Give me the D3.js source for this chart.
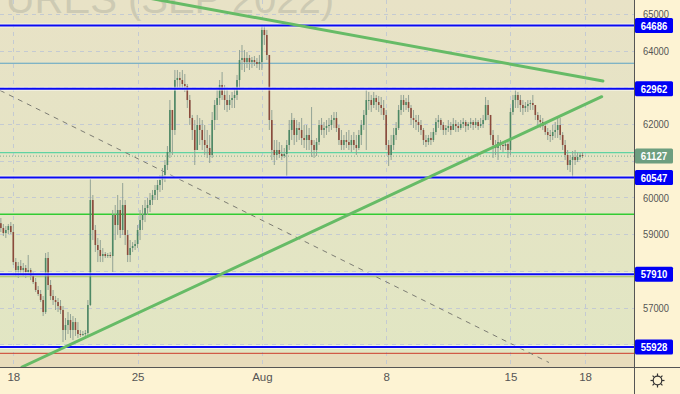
<!DOCTYPE html>
<html>
<head>
<meta charset="utf-8">
<script src="https://cdn.jsdelivr.net/npm/d3@7"></script>
<style>
  body { margin: 0; background: #fdf3d3; }
  svg { display: block; font-family: 'Liberation Sans Narrow', 'Liberation Sans', sans-serif; }
</style>
</head>
<body>
<svg id="chart" width="680" height="394"></svg>
<script>
// hourly-ish bars, 10 per session, Jul 15 (part) .. Aug 17
const barHigh = [
  59441, 59277, 59222, 59277, 59331,
  59277, 58351, 58241, 58296, 58214, 58160, 58433, 58078, 57969, 57806,
  57587, 57479, 57315, 58487, 58514, 57751, 57479, 57315, 57261, 57206,
  57042, 56716, 56879, 56825, 56770, 56716, 56606, 56389, 56362, 56389,
  57206, 60504, 60068, 59250, 58896, 58841, 58623, 58514, 58487, 58514,
  59659, 59795, 60068, 59931, 60394, 59931, 59114, 58841, 58786, 58841,
  59250, 59659, 59795, 59931, 59986, 60122, 60204, 60340, 60476, 60613,
  60803, 61021, 61402, 62656, 62384, 63474, 63474, 63419, 63474, 63365,
  63092, 62793, 62248, 62111, 62248, 62166, 62111, 61975, 61839, 61703,
  62329, 62656, 62929, 63201, 63419, 63065, 62929, 62793, 62874, 62983,
  63338, 64019, 64155, 64019, 63964, 63883, 63828, 63855, 63801, 63883,
  64700, 64672, 64564, 63883, 62384, 61566, 61566, 61511, 61430, 61348,
  61566, 62111, 62302, 62166, 62111, 62056, 62166, 61975, 61975, 61893,
  62465, 61566, 61621, 62111, 62166, 62056, 62111, 62166, 62248, 62329,
  62329, 61975, 61839, 61703, 61784, 61839, 61703, 61784, 61703, 61839,
  62111, 62384, 62929, 62874, 62793, 62874, 62793, 62765, 62738, 62656,
  62384, 61566, 61703, 61893, 62056, 62520, 62793, 62793, 62711, 62793,
  62520, 62384, 62248, 62248, 62111, 61893, 61703, 61703, 61784, 61893,
  62166, 62248, 62166, 62056, 61975, 62111, 62056, 62166, 62111, 62056,
  62111, 62166, 62111, 62056, 62166, 62111, 62166, 62111, 62166, 62248,
  62738, 62656, 62248, 61839, 61566, 61703, 61566, 61511, 61566, 61566,
  62438, 62793, 62929, 62874, 62793, 62656, 62601, 62656, 62656, 62793,
  62520, 62329, 62248, 62166, 62056, 61893, 61839, 61975, 62056, 62166,
  62166, 61784, 61566, 61294, 61158, 61267, 61294, 61239, 61212, 61239
];
const barLow = [
  59059, 58950, 58896, 59005, 59005,
  58160, 57860, 57806, 57915, 57860, 57806, 57888, 57751, 57642, 57424,
  57315, 57151, 56770, 56825, 57479, 57206, 57070, 56934, 56879, 56825,
  56061, 56116, 56280, 56171, 56116, 56225, 56171, 56198, 56225, 56171,
  56225, 57042, 58841, 58514, 58241, 58241, 58241, 58351, 58351, 58351,
  57969, 58841, 58978, 58896, 58978, 58705, 58241, 58241, 58514, 58569,
  58623, 58841, 59114, 59331, 59523, 59604, 59795, 59931, 59931, 60149,
  60204, 60421, 60749, 61076, 61158, 61703, 62929, 62983, 62929, 62874,
  62438, 61975, 61566, 60885, 61294, 61430, 61294, 61158, 61076, 60939,
  61076, 61839, 62111, 62520, 62656, 62384, 62329, 62384, 62438, 62438,
  62656, 62929, 63474, 63419, 63528, 63474, 63528, 63582, 63528, 63474,
  63474, 64155, 63746, 61839, 61021, 60885, 61021, 61076, 61021, 61076,
  60585, 61294, 61566, 61430, 61511, 61566, 61430, 61348, 61294, 61294,
  61103, 61076, 61130, 61430, 61703, 61621, 61703, 61784, 61839, 61893,
  61784, 61430, 61294, 61294, 61348, 61294, 61239, 61294, 61158, 61294,
  61430, 61839, 61294, 62384, 62329, 62438, 62384, 62329, 62248, 62111,
  61294, 60857, 61021, 61294, 61566, 61839, 62248, 62329, 62384, 62329,
  61975, 61893, 61839, 61784, 61703, 61430, 61375, 61430, 61430, 61511,
  61703, 61893, 61839, 61703, 61703, 61784, 61703, 61839, 61784, 61784,
  61839, 61893, 61784, 61839, 61893, 61839, 61893, 61839, 61893, 61893,
  62100, 62111, 61566, 61076, 61158, 61021, 61294, 61239, 61294, 61076,
  61158, 62248, 62438, 62438, 62329, 62248, 62329, 62329, 62384, 62384,
  62111, 61975, 61893, 61839, 61703, 61566, 61511, 61566, 61621, 61621,
  61566, 61294, 61021, 60749, 60694, 60520, 60885, 60966, 61021, 61076
];
const barClose = [
  59168, 59032, 59114, 59222, 59059,
  58241, 58024, 58132, 58024, 58078, 57969, 58024, 57860, 57696, 57479,
  57370, 57206, 56879, 58351, 57615, 57315, 57206, 57151, 57042, 56934,
  56389, 56525, 56661, 56389, 56606, 56389, 56280, 56253, 56280, 56307,
  57070, 59931, 59114, 58705, 58569, 58405, 58460, 58405, 58433, 58405,
  59523, 59250, 59659, 59114, 59795, 58978, 58433, 58623, 58677, 58732,
  59114, 59386, 59523, 59713, 59795, 59931, 60068, 60204, 60340, 60476,
  60613, 60885, 61239, 62384, 61839, 63201, 63256, 63201, 63092, 63037,
  62656, 62166, 61839, 61294, 61975, 61839, 61566, 61430, 61348, 61158,
  62111, 62520, 62711, 63065, 62793, 62656, 62520, 62656, 62711, 62793,
  63201, 63746, 63801, 63691, 63801, 63691, 63746, 63691, 63637, 63691,
  64564, 64428, 63883, 62111, 61294, 61158, 61294, 61185, 61130, 61185,
  61430, 61839, 62111, 61703, 61893, 61839, 61621, 61566, 61703, 61566,
  61430, 61294, 61511, 61975, 61839, 61893, 61947, 61975, 62111, 62166,
  61893, 61566, 61430, 61566, 61511, 61430, 61566, 61430, 61348, 61703,
  61975, 62248, 62656, 62656, 62520, 62711, 62601, 62520, 62438, 62248,
  61430, 61158, 61430, 61703, 61893, 62384, 62656, 62520, 62601, 62438,
  62166, 62111, 62056, 61975, 61839, 61566, 61511, 61621, 61566, 61784,
  62056, 62111, 61975, 61839, 61893, 61947, 61839, 62002, 61947, 61893,
  62002, 62056, 61947, 62002, 62056, 61975, 62056, 61947, 62002, 62111,
  62520, 62248, 61703, 61430, 61348, 61511, 61430, 61402, 61457, 61294,
  62329, 62656, 62793, 62656, 62520, 62438, 62492, 62547, 62574, 62520,
  62248, 62111, 62056, 61947, 61784, 61703, 61675, 61784, 61839, 61975,
  61703, 61430, 61158, 60885, 61021, 61103, 61021, 61103, 61158, 61127
];
const firstOpen = 59300;

// x axis: bar index where each labelled session starts
const dayStarts = [5, 55, 105, 155, 205, 235];
const dayLabels = ['18', '25', 'Aug', '8', '15', '18'];

const yTickValues = [65000, 64000, 62000, 60000, 59000, 57000];
const yGridValues = [65000, 64000, 63000, 62000, 61000, 60000, 59000, 58000, 57000, 56000];

// drawn levels
const blueLevels = [64686, 62962, 60547, 57910, 55928];
const steelLevel = 63657;
const tealLevel = 61225;
const greenLevel = 59542;
const oliveLevel = 57847;
const redLevel = 55754;
const lastPrice = 61127;

// trend lines [bar index, price]
const resistanceLine = [[60, 65427], [242.2, 63174]];
const supportLine = [[8.5, 55381], [241.7, 62746]];
const dashedLine = [[-0.35, 62918], [220.5, 55503]];

const width = 680;
const height = 394;
const plot = { left: 0, top: 0, right: 634, bottom: 367 };

const xScale = d3.scaleLinear().domain([-0.35, 254.7]).range([plot.left, plot.right]);
const yScale = d3.scaleLinear().domain([55381, 65381]).range([plot.bottom, plot.top]);

const bars = barClose.map((c, i) => ({
    i,
    open: i === 0 ? firstOpen : barClose[i - 1],
    high: barHigh[i],
    low: barLow[i],
    close: c,
}));

const svg = d3.select('#chart');

const defs = svg.append('defs');
defs.append('clipPath').attr('id', 'plot-clip')
    .append('rect')
    .attr('x', plot.left).attr('y', plot.top)
    .attr('width', plot.right - plot.left).attr('height', plot.bottom - plot.top);

const grad = defs.append('linearGradient').attr('id', 'bg-grad')
    .attr('x1', 0).attr('y1', 0).attr('x2', 0).attr('y2', 1);
grad.append('stop').attr('offset', '0%').attr('stop-color', '#e8e2c6');
grad.append('stop').attr('offset', '100%').attr('stop-color', '#e1e6c3');

// axis background
svg.append('rect').attr('width', width).attr('height', height).attr('fill', '#fdf3d3');

const g = svg.append('g').attr('clip-path', 'url(#plot-clip)');

g.append('rect')
    .attr('x', plot.left).attr('y', plot.top)
    .attr('width', plot.right - plot.left).attr('height', plot.bottom - plot.top)
    .attr('fill', 'url(#bg-grad)');

// shaded zone under the red line
g.append('rect')
    .attr('x', plot.left).attr('y', yScale(redLevel))
    .attr('width', plot.right - plot.left).attr('height', plot.bottom - yScale(redLevel))
    .attr('fill', '#e8dcbc');

// grid
g.selectAll('.hgrid')
    .data(yGridValues)
    .join('line')
    .attr('x1', plot.left).attr('x2', plot.right)
    .attr('y1', (d) => Math.round(yScale(d)) + 0.5)
    .attr('y2', (d) => Math.round(yScale(d)) + 0.5)
    .attr('stroke', '#c4cad2')
    .attr('stroke-dasharray', '4,4');

g.selectAll('.vgrid')
    .data(dayStarts)
    .join('line')
    .attr('x1', (d) => Math.round(xScale(d)) + 0.5)
    .attr('x2', (d) => Math.round(xScale(d)) + 0.5)
    .attr('y1', plot.top).attr('y2', plot.bottom)
    .attr('stroke', '#c4cad2')
    .attr('stroke-dasharray', '4,4');

// watermark (cut by the top edge, as in the original)
g.append('text')
    .attr('x', 334).attr('y', 13)
    .attr('text-anchor', 'end')
    .attr('font-family', "'Liberation Sans', Arial, sans-serif")
    .attr('font-size', 40)
    .attr('fill', '#cdcab3')
    .text('FUTURES (SEP 2022)');

function hLine(value, color, w, dash) {
    const y = yScale(value);
    g.append('line')
        .attr('x1', plot.left).attr('x2', plot.right)
        .attr('y1', y).attr('y2', y)
        .attr('stroke', color)
        .attr('stroke-width', w)
        .attr('stroke-dasharray', dash || null);
}

hLine(steelLevel, '#5ca3c4', 1.2);
hLine(tealLevel, '#5fd3a3', 1.2);
hLine(lastPrice, '#7fae90', 1, '1,2');
hLine(greenLevel, '#33cc33', 1.5);
hLine(oliveLevel, '#a9c55c', 1.5);
hLine(redLevel, '#cc3a2a', 1);

const lineGen = d3.line()
    .x((d) => xScale(d[0]))
    .y((d) => yScale(d[1]));

g.append('path')
    .datum(dashedLine)
    .attr('d', lineGen)
    .attr('fill', 'none')
    .attr('stroke', '#7d7d74')
    .attr('stroke-width', 1)
    .attr('stroke-dasharray', '5,5');

// candles
const candles = g.append('g').attr('class', 'candles');
candles.selectAll('line')
    .data(bars)
    .join('line')
    .attr('x1', (d) => xScale(d.i))
    .attr('x2', (d) => xScale(d.i))
    .attr('y1', (d) => yScale(Math.max(d.high, d.open, d.close)))
    .attr('y2', (d) => yScale(Math.min(d.low, d.open, d.close)))
    .attr('stroke', '#93a395')
    .attr('stroke-width', 1);

candles.selectAll('rect')
    .data(bars)
    .join('rect')
    .attr('x', (d) => xScale(d.i) - 0.8)
    .attr('width', 1.6)
    .attr('y', (d) => yScale(Math.max(d.open, d.close)))
    .attr('height', (d) => Math.max(1, Math.abs(yScale(d.open) - yScale(d.close))))
    .attr('fill', (d) => (d.close >= d.open ? '#4d8865' : '#8b4a3b'));

// blue levels over the bars
blueLevels.forEach((v) => {
    hLine(v, 'rgba(255,255,255,0.6)', 4);
    hLine(v, '#0a0af2', 2);
});

// trend lines
[resistanceLine, supportLine].forEach((pts) => {
    g.append('path')
        .datum(pts)
        .attr('d', lineGen)
        .attr('fill', 'none')
        .attr('stroke', '#66bb66')
        .attr('stroke-width', 3)
        .attr('stroke-linecap', 'round');
});

// frame
svg.append('line')
    .attr('x1', plot.right + 0.5).attr('x2', plot.right + 0.5)
    .attr('y1', 0).attr('y2', height)
    .attr('stroke', '#555').attr('stroke-width', 1);
svg.append('line')
    .attr('x1', 0).attr('x2', width)
    .attr('y1', plot.bottom + 0.5).attr('y2', plot.bottom + 0.5)
    .attr('stroke', '#555').attr('stroke-width', 1);

// y axis
const yAxis = d3.axisRight(yScale)
    .tickValues(yTickValues)
    .tickFormat(d3.format('d'))
    .tickSize(0)
    .tickPadding(9);
const yAxisG = svg.append('g')
    .attr('transform', `translate(${plot.right}, 0)`)
    .call(yAxis);
yAxisG.select('.domain').remove();
yAxisG.selectAll('text')
    .attr('font-size', 11.5)
    .attr('fill', '#555')
    .attr('font-family', "'Liberation Sans Narrow', 'Liberation Sans', sans-serif")
    .attr('textLength', 26)
    .attr('lengthAdjust', 'spacingAndGlyphs');

// x axis
const xAxis = d3.axisBottom(xScale)
    .tickValues(dayStarts)
    .tickFormat((d, i) => dayLabels[i])
    .tickSize(0)
    .tickPadding(6);
const xAxisG = svg.append('g')
    .attr('transform', `translate(0, ${plot.bottom})`)
    .call(xAxis);
xAxisG.select('.domain').remove();
xAxisG.selectAll('text')
    .attr('font-size', 11.5)
    .attr('fill', '#555')
    .attr('font-family', "'Liberation Sans Narrow', 'Liberation Sans', sans-serif");

// price labels
function priceLabel(value, color) {
    const y = yScale(value);
    const lab = svg.append('g').attr('transform', `translate(${plot.right + 1}, ${y})`);
    lab.append('rect')
        .attr('x', 0).attr('y', -7.5)
        .attr('width', 38).attr('height', 15)
        .attr('rx', 1.5)
        .attr('fill', color);
    lab.append('text')
        .attr('x', 19).attr('y', 4.2)
        .attr('text-anchor', 'middle')
        .attr('font-size', 11.5)
        .attr('font-weight', 'bold')
        .attr('fill', '#fff')
        .attr('font-family', "'Liberation Sans Narrow', 'Liberation Sans', sans-serif")
        .attr('textLength', 26.5)
        .attr('lengthAdjust', 'spacingAndGlyphs')
        .text(value);
}
blueLevels.forEach((v) => priceLabel(v, '#0000f5'));
priceLabel(lastPrice, '#6d9e7f');

// settings icon
const gear = svg.append('g').attr('transform', 'translate(657.5, 380.5)');
gear.append('circle').attr('r', 4.3).attr('fill', 'none').attr('stroke', '#333').attr('stroke-width', 1.2);
d3.range(8).forEach((k) => {
    const a = (k * Math.PI) / 4;
    gear.append('line')
        .attr('x1', Math.cos(a) * 4.5).attr('y1', Math.sin(a) * 4.5)
        .attr('x2', Math.cos(a) * 7).attr('y2', Math.sin(a) * 7)
        .attr('stroke', '#333').attr('stroke-width', 1.2);
});
</script>
</body>
</html>
